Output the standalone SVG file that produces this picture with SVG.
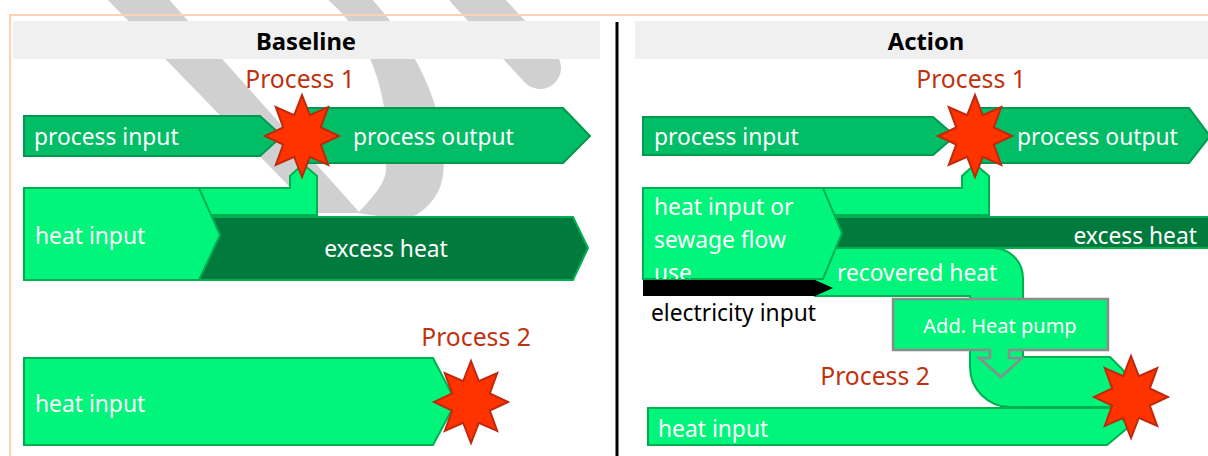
<svg xmlns="http://www.w3.org/2000/svg" width="1208" height="456" viewBox="0 0 1208 456">
  <defs>
    <style>
      .lbl { font-family: "Noto Sans", "Open Sans", sans-serif; font-size: 22.8px; fill: #ffffff; }
      .proc { font-family: "Noto Sans", "Open Sans", sans-serif; font-size: 24.7px; fill: #c0320f; text-anchor: middle; }
      .head { font-family: "Noto Sans", "Open Sans", sans-serif; font-size: 23.8px; font-weight: bold; fill: #000000; text-anchor: middle; }
      .flow-dark { fill: #00bd66; stroke: #00994f; stroke-width: 2; }
      .flow-light { fill: #00f57a; stroke: #00b050; stroke-width: 2; }
      .flow-excess { fill: #007a3d; stroke: #00b050; stroke-width: 2; }
      .wm { fill: #d0d0d0; stroke: none; }
    </style>
    <!-- 8-point burst marking a process -->
    <polygon id="burst" fill="#ff3300" stroke="#c0280e" stroke-width="2"
      points="0,-41 7.8,-20.8 26.2,-29 18.8,-8.6 37,0 18.8,8.6 26.2,29 7.8,20.8 0,41 -7.8,20.8 -26.2,29 -18.8,8.6 -37,0 -18.8,-8.6 -26.2,-29 -7.8,-20.8"/>
    <clipPath id="clip-sewage">
      <rect x="640" y="186" width="200" height="93"/>
    </clipPath>
  </defs>

  <rect width="1208" height="456" fill="#ffffff"/>

  <!-- background watermark strokes -->
  <g id="watermark">
    <polygon class="wm" points="103,-5 165,-5 360,213 315,213"/>
    <path class="wm" d="M322,-5 L368,-5 C420,50 450,120 443,175 C440,200 420,215 405,220 L358,213 C375,195 388,180 386,165 C392,110 375,35 322,-5 Z"/>
    <line x1="468" y1="-10" x2="540" y2="68" stroke="#d0d0d0" stroke-width="42" stroke-linecap="round"/>
  </g>

  <!-- frame, headers, divider -->
  <rect x="10" y="15" width="1215" height="460" fill="none" stroke="#fdd3b5" stroke-width="2"/>
  <rect x="13" y="21" width="587" height="38" fill="#f0f0f0"/>
  <rect x="635" y="21" width="580" height="38" fill="#f0f0f0"/>
  <text class="head" x="306" y="50">Baseline</text>
  <text class="head" x="926" y="50">Action</text>
  <line x1="617" y1="22" x2="617" y2="456" stroke="#000000" stroke-width="3"/>

  <!-- heat flows branching into the processes -->
  <g id="connectors">
    <polygon class="flow-light" points="195,188 290,188 290,176 303,164 317,176 317,215 195,215"/>
    <polygon class="flow-light" points="815,188 962,188 962,176 975,164 989,176 989,215 815,215"/>
    <g id="ac-recovered-heat">
      <path class="flow-light" d="M815,248 H993 A30,30 0 0 1 1023,278 V357 H1110 L1135,382 L1110,407 H1010 A40,40 0 0 1 970,367 V296 H815 Z"/>
      <text class="lbl" x="837" y="281">recovered heat</text>
    </g>
  </g>

  <!-- Baseline -->
  <g id="bl-excess-heat">
    <polygon class="flow-excess" points="199,217 573,217 588,248 573,280 199,280"/>
    <text class="lbl" x="386" y="257" text-anchor="middle">excess heat</text>
  </g>
  <g id="bl-heat-input-1">
    <polygon class="flow-light" points="24,188 199,188 220,235 199,280 24,280"/>
    <text class="lbl" x="35" y="244">heat input</text>
  </g>
  <g id="bl-process-input">
    <polygon class="flow-dark" points="24,116 260,116 282,136 260,156 24,156"/>
    <text class="lbl" x="34" y="145">process input</text>
  </g>
  <g id="bl-process-output">
    <polygon class="flow-dark" points="305,108 563,108 590,136 563,163 305,163"/>
    <text class="lbl" x="353" y="145">process output</text>
  </g>
  <g id="bl-process-1">
    <use href="#burst" x="302" y="136"/>
    <text class="proc" x="300" y="88">Process 1</text>
  </g>
  <g id="bl-heat-input-2">
    <polygon class="flow-light" points="24,358 433,358 456,402 433,445 24,445"/>
    <text class="lbl" x="35" y="412">heat input</text>
  </g>
  <g id="bl-process-2">
    <use href="#burst" x="471" y="402"/>
    <text class="proc" x="476" y="346">Process 2</text>
  </g>

  <!-- Action -->
  <g id="ac-excess-heat">
    <rect class="flow-excess" x="815" y="217" width="398" height="31" rx="5"/>
    <text class="lbl" x="1197" y="244" text-anchor="end">excess heat</text>
  </g>
  <g id="ac-heat-input-sewage">
    <polygon class="flow-light" points="643,188 823,188 842,233 823,279 643,279"/>
    <g clip-path="url(#clip-sewage)">
      <text class="lbl" x="654" y="215">heat input or</text>
      <text class="lbl" x="654" y="248">sewage flow</text>
      <text class="lbl" x="654" y="281">use</text>
    </g>
  </g>
  <g id="ac-electricity-input">
    <polygon fill="#000000" points="643,280 815,280 833,288 815,296 643,296"/>
    <text class="lbl" x="651" y="321" style="fill:#000000">electricity input</text>
  </g>
  <g id="ac-process-input">
    <polygon class="flow-dark" points="643,117 933,117 955,136 933,155 643,155"/>
    <text class="lbl" x="654" y="145">process input</text>
  </g>
  <g id="ac-process-output">
    <polygon class="flow-dark" points="980,108 1189,108 1210,136 1189,163 980,163"/>
    <text class="lbl" x="1017" y="145">process output</text>
  </g>
  <g id="ac-process-1">
    <use href="#burst" x="975" y="136"/>
    <text class="proc" x="971" y="88">Process 1</text>
  </g>
  <g id="ac-heat-pump">
    <path fill="#00f57a" stroke="#8c8c8c" stroke-width="2.5" d="M893,299 H1108 V350 H1009 V358 H1022 L1001,377 L979,358 H990 V350 H893 Z"/>
    <text class="lbl" x="1000" y="333" text-anchor="middle" style="font-size:20px">Add. Heat pump</text>
  </g>
  <g id="ac-heat-input">
    <polygon class="flow-light" points="648,408 1110,408 1130,426 1107,445 648,445"/>
    <text class="lbl" x="658" y="437">heat input</text>
  </g>
  <g id="ac-process-2">
    <use href="#burst" x="1131" y="397"/>
    <text class="proc" x="875" y="385">Process 2</text>
  </g>
</svg>
